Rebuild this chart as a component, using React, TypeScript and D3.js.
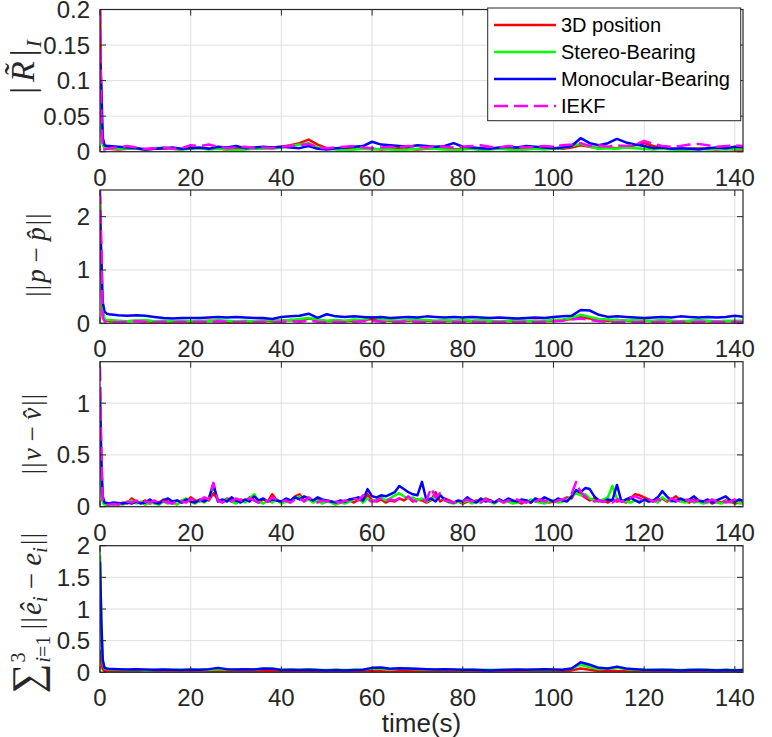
import { useEffect, useRef } from 'react';
import * as d3 from 'd3';

// sample times (s): coarse grid for the smooth panels, 1 s grid for the velocity panel
const tCoarse = [
  0, 0.3, 0.6, 1, 1.5,
  2, 4, 6, 8, 10, 12, 14, 16, 18, 20,
  22, 24, 26, 28, 30, 32, 34, 36, 38, 40,
  42, 44, 46, 48, 50, 52, 54, 56, 58, 60,
  62, 64, 66, 68, 70, 72, 74, 76, 78, 80,
  82, 84, 86, 88, 90, 92, 94, 96, 98, 100,
  102, 104, 106, 108, 110, 112, 114, 116, 118, 120,
  122, 124, 126, 128, 130, 132, 134, 136, 138, 140,
  142,
];
const tFine = [
  0, 0.3, 0.6, 1, 1.5,
  2, 3, 4, 5, 6, 7, 8, 9, 10, 11,
  12, 13, 14, 15, 16, 17, 18, 19, 20, 21,
  22, 23, 24, 25, 26, 27, 28, 29, 30, 31,
  32, 33, 34, 35, 36, 37, 38, 39, 40, 41,
  42, 43, 44, 45, 46, 47, 48, 49, 50, 51,
  52, 53, 54, 55, 56, 57, 58, 59, 60, 61,
  62, 63, 64, 65, 66, 67, 68, 69, 70, 71,
  72, 73, 74, 75, 76, 77, 78, 79, 80, 81,
  82, 83, 84, 85, 86, 87, 88, 89, 90, 91,
  92, 93, 94, 95, 96, 97, 98, 99, 100, 101,
  102, 103, 104, 105, 106, 107, 108, 109, 110, 111,
  112, 113, 114, 115, 116, 117, 118, 119, 120, 121,
  122, 123, 124, 125, 126, 127, 128, 129, 130, 131,
  132, 133, 134, 135, 136, 137, 138, 139, 140, 141,
  142,
];

const seriesNames = ['3D position', 'Stereo-Bearing', 'Monocular-Bearing', 'IEKF'];
const seriesColors = ['#ff0000', '#00ff00', '#0000ff', '#ff00ff'];
const xTicks = [0, 20, 40, 60, 80, 100, 120, 140];

// panel 1: rotation error |R~|_I
const rotTicks = [0, 0.05, 0.1, 0.15, 0.2];
const rotTickLabels = ['0', '0.05', '0.1', '0.15', '0.2'];
const rot3D = [
  0.21, 0.06, 0.012, 0.005, 0.004,
  0.004, 0.003, 0.004, 0.005, 0.003, 0.004, 0.005, 0.004, 0.003, 0.006,
  0.005, 0.004, 0.005, 0.003, 0.004, 0.005, 0.004, 0.005, 0.006, 0.007,
  0.009, 0.012, 0.017, 0.010, 0.005, 0.004, 0.003, 0.004, 0.005, 0.004,
  0.003, 0.004, 0.005, 0.004, 0.003, 0.004, 0.005, 0.004, 0.003, 0.004,
  0.005, 0.003, 0.004, 0.005, 0.004, 0.003, 0.004, 0.005, 0.004, 0.005,
  0.004, 0.006, 0.009, 0.007, 0.005, 0.006, 0.005, 0.007, 0.009, 0.012,
  0.008, 0.005, 0.004, 0.003, 0.004, 0.005, 0.004, 0.003, 0.004, 0.003,
  0.003,
];
const rotStereo = [
  0.09, 0.03, 0.01, 0.006, 0.005,
  0.005, 0.004, 0.005, 0.004, 0.003, 0.005, 0.006, 0.004, 0.003, 0.004,
  0.005, 0.003, 0.004, 0.003, 0.002, 0.003, 0.004, 0.005, 0.004, 0.006,
  0.008, 0.010, 0.012, 0.006, 0.004, 0.003, 0.002, 0.003, 0.004, 0.003,
  0.004, 0.003, 0.002, 0.003, 0.004, 0.005, 0.004, 0.003, 0.002, 0.003,
  0.004, 0.002, 0.003, 0.004, 0.003, 0.002, 0.003, 0.004, 0.003, 0.004,
  0.005, 0.008, 0.011, 0.007, 0.004, 0.005, 0.004, 0.006, 0.005, 0.004,
  0.003, 0.004, 0.003, 0.002, 0.003, 0.004, 0.003, 0.004, 0.003, 0.004,
  0.004,
];
const rotMono = [
  0.13, 0.09, 0.02, 0.009, 0.008,
  0.008, 0.007, 0.006, 0.005, 0.003, 0.004, 0.005, 0.006, 0.004, 0.005,
  0.006, 0.004, 0.007, 0.006, 0.008, 0.005, 0.006, 0.007, 0.006, 0.007,
  0.006, 0.005, 0.008, 0.004, 0.003, 0.005, 0.006, 0.007, 0.008, 0.014,
  0.010, 0.009, 0.008, 0.007, 0.009, 0.008, 0.007, 0.008, 0.012, 0.007,
  0.006, 0.005, 0.004, 0.006, 0.007, 0.006, 0.008, 0.007, 0.006, 0.005,
  0.006, 0.008, 0.019, 0.012, 0.009, 0.012, 0.018, 0.013, 0.010, 0.008,
  0.005, 0.006, 0.004, 0.005, 0.004, 0.003, 0.005, 0.006, 0.005, 0.007,
  0.006,
];
const rotIEKF = [
  0.2, 0.05, 0.004, 0.003, 0.004,
  0.005, 0.006, 0.008, 0.006, 0.004, 0.005, 0.006, 0.004, 0.005, 0.009,
  0.008, 0.010, 0.007, 0.005, 0.006, 0.007, 0.005, 0.006, 0.005, 0.007,
  0.008, 0.009, 0.011, 0.006, 0.005, 0.006, 0.007, 0.008, 0.006, 0.005,
  0.006, 0.007, 0.006, 0.008, 0.007, 0.006, 0.008, 0.007, 0.006, 0.007,
  0.008, 0.009, 0.007, 0.006, 0.008, 0.007, 0.006, 0.007, 0.008, 0.007,
  0.009, 0.010, 0.012, 0.008, 0.009, 0.007, 0.009, 0.008, 0.010, 0.015,
  0.011, 0.008, 0.007, 0.008, 0.010, 0.011, 0.009, 0.007, 0.008, 0.009,
  0.008,
];

// panel 2: position error ||p - p^||
const posTicks = [0, 1, 2];
const posTickLabels = ['0', '1', '2'];
const pos3D = [
  2.4, 0.9, 0.15, 0.06, 0.05,
  0.04, 0.03, 0.04, 0.05, 0.04, 0.03, 0.04, 0.03, 0.04, 0.03,
  0.04, 0.05, 0.04, 0.03, 0.04, 0.03, 0.04, 0.05, 0.04, 0.05,
  0.06, 0.05, 0.09, 0.06, 0.04, 0.05, 0.04, 0.05, 0.06, 0.08,
  0.06, 0.05, 0.04, 0.05, 0.06, 0.05, 0.04, 0.05, 0.04, 0.05,
  0.04, 0.05, 0.04, 0.03, 0.04, 0.05, 0.04, 0.05, 0.04, 0.05,
  0.06, 0.08, 0.12, 0.09, 0.06, 0.05, 0.06, 0.05, 0.04, 0.05,
  0.04, 0.05, 0.04, 0.03, 0.04, 0.05, 0.04, 0.03, 0.04, 0.04,
  0.04,
];
const posStereo = [
  2.3, 0.7, 0.35, 0.08, 0.06,
  0.06, 0.05, 0.04, 0.05, 0.06, 0.04, 0.05, 0.04, 0.05, 0.04,
  0.05, 0.04, 0.06, 0.05, 0.04, 0.05, 0.04, 0.05, 0.06, 0.05,
  0.06, 0.08, 0.1, 0.07, 0.05, 0.06, 0.05, 0.07, 0.06, 0.12,
  0.07, 0.06, 0.05, 0.06, 0.07, 0.06, 0.05, 0.06, 0.05, 0.06,
  0.05, 0.06, 0.05, 0.04, 0.05, 0.06, 0.05, 0.04, 0.05, 0.06,
  0.07, 0.1, 0.16, 0.12, 0.08, 0.07, 0.06, 0.05, 0.06, 0.05,
  0.05, 0.06, 0.05, 0.04, 0.05, 0.06, 0.05, 0.04, 0.05, 0.05,
  0.05,
];
const posMono = [
  2.1, 1.2, 0.4, 0.22, 0.18,
  0.17, 0.15, 0.14, 0.15, 0.14, 0.12, 0.1, 0.09, 0.1, 0.1,
  0.1, 0.11, 0.12, 0.11, 0.12, 0.11, 0.1, 0.1, 0.08, 0.12,
  0.13, 0.14, 0.18, 0.1, 0.17, 0.13, 0.12, 0.13, 0.12, 0.11,
  0.12, 0.1, 0.11, 0.12, 0.11, 0.13, 0.12, 0.11, 0.12, 0.11,
  0.12, 0.11, 0.1, 0.11, 0.1, 0.09, 0.1, 0.11, 0.1, 0.12,
  0.13, 0.14, 0.25, 0.24, 0.16, 0.12, 0.13, 0.12, 0.11, 0.1,
  0.11, 0.12, 0.11, 0.13, 0.12, 0.11, 0.12, 0.11, 0.12, 0.14,
  0.12,
];
const posIEKF = [
  2.5, 1.5, 0.1, 0.04, 0.03,
  0.03, 0.02, 0.03, 0.04, 0.03, 0.02, 0.03, 0.02, 0.03, 0.02,
  0.03, 0.02, 0.04, 0.03, 0.02, 0.03, 0.02, 0.03, 0.02, 0.03,
  0.04, 0.03, 0.05, 0.03, 0.02, 0.03, 0.02, 0.03, 0.04, 0.05,
  0.03, 0.02, 0.03, 0.04, 0.03, 0.02, 0.03, 0.02, 0.03, 0.02,
  0.03, 0.02, 0.03, 0.02, 0.03, 0.02, 0.03, 0.02, 0.03, 0.04,
  0.05, 0.07, 0.09, 0.06, 0.04, 0.03, 0.02, 0.03, 0.02, 0.03,
  0.02, 0.03, 0.02, 0.03, 0.02, 0.03, 0.02, 0.03, 0.02, 0.03,
  0.02,
];

// panel 3: velocity error ||v - v^|| (1 s grid)
const velTicks = [0, 0.5, 1];
const velTickLabels = ['0', '0.5', '1'];
const vel3D = [
  0.85, 0.3, 0.06, 0.03, 0.02,
  0.02, 0.03, 0.02, 0.04, 0.03, 0.08, 0.05, 0.04, 0.06, 0.03,
  0.05, 0.04, 0.07, 0.05, 0.03, 0.06, 0.04, 0.05, 0.09, 0.06,
  0.05, 0.08, 0.06, 0.13, 0.07, 0.05, 0.08, 0.06, 0.04, 0.07,
  0.05, 0.09, 0.06, 0.04, 0.07, 0.05, 0.12, 0.06, 0.04, 0.07,
  0.05, 0.1, 0.12, 0.06, 0.08, 0.05, 0.07, 0.04, 0.06, 0.05,
  0.03, 0.05, 0.04, 0.06, 0.04, 0.07, 0.05, 0.12, 0.06, 0.05,
  0.07, 0.04, 0.06, 0.05, 0.08, 0.06, 0.09, 0.05, 0.07, 0.06,
  0.04, 0.06, 0.14, 0.05, 0.08, 0.06, 0.04, 0.05, 0.03, 0.05,
  0.04, 0.06, 0.05, 0.08, 0.06, 0.04, 0.07, 0.05, 0.06, 0.04,
  0.05, 0.03, 0.06, 0.04, 0.07, 0.05, 0.06, 0.04, 0.05, 0.07,
  0.06, 0.09, 0.08, 0.15, 0.12, 0.09, 0.06, 0.08, 0.05, 0.06,
  0.04, 0.07, 0.05, 0.06, 0.04, 0.08, 0.12, 0.11, 0.09, 0.07,
  0.05, 0.06, 0.08, 0.05, 0.07, 0.1, 0.06, 0.05, 0.04, 0.07,
  0.05, 0.04, 0.06, 0.03, 0.05, 0.04, 0.06, 0.05, 0.03, 0.04,
  0.03,
];
const velStereo = [
  0.5, 0.15, 0.04, 0.02, 0.015,
  0.02, 0.015, 0.03, 0.02, 0.04, 0.06, 0.03, 0.05, 0.02, 0.04,
  0.03, 0.02, 0.05, 0.03, 0.04, 0.02, 0.06, 0.08, 0.05, 0.03,
  0.06, 0.04, 0.07, 0.2, 0.06, 0.04, 0.07, 0.05, 0.03, 0.06,
  0.04, 0.08, 0.12, 0.05, 0.03, 0.06, 0.04, 0.07, 0.03, 0.05,
  0.04, 0.08, 0.1, 0.05, 0.07, 0.04, 0.06, 0.03, 0.05, 0.04,
  0.02, 0.04, 0.03, 0.05, 0.07, 0.09, 0.04, 0.08, 0.05, 0.07,
  0.09, 0.06, 0.08, 0.11, 0.13, 0.1, 0.08, 0.09, 0.06, 0.08,
  0.05, 0.07, 0.1, 0.12, 0.06, 0.04, 0.03, 0.05, 0.04, 0.06,
  0.03, 0.05, 0.04, 0.07, 0.05, 0.03, 0.06, 0.04, 0.05, 0.03,
  0.04, 0.06, 0.04, 0.07, 0.05, 0.04, 0.03, 0.05, 0.06, 0.04,
  0.05, 0.07, 0.1, 0.13, 0.11, 0.12, 0.08, 0.06, 0.05, 0.07,
  0.09, 0.2, 0.08, 0.06, 0.05, 0.04, 0.06, 0.05, 0.07, 0.05,
  0.06, 0.04, 0.09, 0.06, 0.05, 0.07, 0.05, 0.04, 0.06, 0.04,
  0.05, 0.03, 0.04, 0.06, 0.04, 0.03, 0.05, 0.04, 0.06, 0.03,
  0.04,
];
const velMono = [
  1.1, 0.45, 0.1, 0.04, 0.035,
  0.03, 0.04, 0.035, 0.03, 0.04, 0.03, 0.05, 0.03, 0.04, 0.07,
  0.04, 0.03, 0.06, 0.08, 0.05, 0.06, 0.04, 0.07, 0.05, 0.04,
  0.07, 0.05, 0.08, 0.22, 0.05, 0.07, 0.05, 0.09, 0.06, 0.04,
  0.07, 0.05, 0.1, 0.06, 0.08, 0.05, 0.07, 0.06, 0.05, 0.08,
  0.06, 0.09, 0.07, 0.1, 0.08, 0.06, 0.09, 0.07, 0.06, 0.05,
  0.04, 0.06, 0.05, 0.07, 0.08, 0.09, 0.06, 0.17, 0.1, 0.09,
  0.11, 0.1, 0.12, 0.14, 0.2, 0.17, 0.14, 0.12, 0.11, 0.24,
  0.06, 0.08, 0.05, 0.11, 0.07, 0.05, 0.04, 0.06, 0.05, 0.09,
  0.06, 0.04, 0.08, 0.05, 0.06, 0.04, 0.07, 0.05, 0.08, 0.06,
  0.05, 0.07, 0.06, 0.04, 0.08, 0.06, 0.09, 0.07, 0.05, 0.08,
  0.06, 0.05, 0.1, 0.16, 0.14, 0.18, 0.17, 0.1, 0.06, 0.05,
  0.07, 0.06, 0.21, 0.05, 0.07, 0.09, 0.06, 0.04, 0.07, 0.05,
  0.06, 0.09, 0.15, 0.1, 0.06, 0.05, 0.08, 0.06, 0.07, 0.1,
  0.06, 0.05, 0.07, 0.04, 0.06, 0.08, 0.1, 0.06, 0.05, 0.07,
  0.05,
];
const velIEKF = [
  1.35, 0.5, 0.05, 0.025, 0.02,
  0.02, 0.025, 0.02, 0.03, 0.05, 0.04, 0.06, 0.03, 0.05, 0.04,
  0.06, 0.03, 0.05, 0.04, 0.03, 0.06, 0.05, 0.04, 0.07, 0.08,
  0.06, 0.09, 0.07, 0.23, 0.06, 0.04, 0.07, 0.05, 0.08, 0.06,
  0.05, 0.08, 0.06, 0.04, 0.07, 0.05, 0.09, 0.06, 0.05, 0.06,
  0.04, 0.07, 0.08, 0.05, 0.09, 0.06, 0.04, 0.06, 0.05, 0.07,
  0.05, 0.04, 0.06, 0.05, 0.08, 0.06, 0.11, 0.07, 0.05, 0.06,
  0.08, 0.05, 0.07, 0.06, 0.08, 0.07, 0.1, 0.06, 0.05, 0.07,
  0.06, 0.18, 0.09, 0.13, 0.06, 0.05, 0.04, 0.06, 0.05, 0.07,
  0.05, 0.06, 0.04, 0.07, 0.05, 0.08, 0.06, 0.04, 0.06, 0.05,
  0.07, 0.05, 0.04, 0.06, 0.05, 0.07, 0.05, 0.06, 0.04, 0.06,
  0.07, 0.09, 0.12, 0.24, 0.14, 0.1, 0.07, 0.05, 0.06, 0.05,
  0.06, 0.04, 0.07, 0.05, 0.06, 0.09, 0.1, 0.08, 0.06, 0.07,
  0.05, 0.07, 0.06, 0.05, 0.08, 0.06, 0.05, 0.07, 0.06, 0.05,
  0.06, 0.04, 0.05, 0.07, 0.05, 0.06, 0.04, 0.05, 0.07, 0.05,
  0.04,
];

// panel 4: sum of basis vector errors
const basisTicks = [0, 0.5, 1, 1.5, 2];
const basisTickLabels = ['0', '0.5', '1', '1.5', '2'];
const basis3D = [
  0.35, 0.15, 0.05, 0.02, 0.02,
  0.02, 0.015, 0.01, 0.015, 0.01, 0.015, 0.01, 0.015, 0.01, 0.015,
  0.01, 0.015, 0.02, 0.015, 0.02, 0.015, 0.01, 0.02, 0.015, 0.01,
  0.015, 0.02, 0.03, 0.015, 0.01, 0.015, 0.01, 0.015, 0.02, 0.02,
  0.015, 0.01, 0.015, 0.02, 0.015, 0.01, 0.015, 0.01, 0.015, 0.01,
  0.015, 0.01, 0.015, 0.01, 0.015, 0.01, 0.015, 0.01, 0.015, 0.01,
  0.015, 0.03, 0.06, 0.04, 0.02, 0.03, 0.02, 0.015, 0.01, 0.015,
  0.01, 0.015, 0.01, 0.015, 0.01, 0.015, 0.01, 0.015, 0.01, 0.015,
  0.01,
];
const basisStereo = [
  1.85, 0.7, 0.15, 0.06, 0.05,
  0.05, 0.04, 0.035, 0.04, 0.03, 0.035, 0.04, 0.035, 0.04, 0.035,
  0.04, 0.035, 0.05, 0.045, 0.04, 0.05, 0.045, 0.055, 0.06, 0.04,
  0.045, 0.04, 0.05, 0.04, 0.035, 0.04, 0.035, 0.04, 0.045, 0.06,
  0.055, 0.05, 0.06, 0.055, 0.05, 0.045, 0.04, 0.045, 0.04, 0.035,
  0.04, 0.035, 0.04, 0.035, 0.04, 0.035, 0.04, 0.035, 0.04, 0.035,
  0.04, 0.06, 0.12, 0.08, 0.05, 0.06, 0.07, 0.05, 0.04, 0.035,
  0.04, 0.035, 0.04, 0.035, 0.04, 0.035, 0.04, 0.035, 0.04, 0.035,
  0.035,
];
const basisMono = [
  1.75, 0.8, 0.2, 0.07, 0.06,
  0.055, 0.05, 0.045, 0.05, 0.045, 0.04, 0.045, 0.04, 0.035, 0.045,
  0.04, 0.05, 0.07, 0.05, 0.045, 0.05, 0.045, 0.06, 0.055, 0.035,
  0.04, 0.035, 0.04, 0.035, 0.03, 0.035, 0.03, 0.035, 0.04, 0.07,
  0.075, 0.055, 0.065, 0.06, 0.055, 0.05, 0.045, 0.05, 0.045, 0.04,
  0.04, 0.035, 0.03, 0.035, 0.04, 0.045, 0.04, 0.045, 0.05, 0.045,
  0.04, 0.06, 0.16, 0.12, 0.07, 0.06, 0.09, 0.06, 0.05, 0.04,
  0.035, 0.04, 0.035, 0.03, 0.035, 0.04, 0.035, 0.03, 0.035, 0.03,
  0.035,
];

const W = 772;
const H = 737;
const AX = '#262626';

type Part = { s: string; i?: boolean; f?: number; dx?: number; dy?: number };

export default function App() {
  const ref = useRef<SVGSVGElement>(null);

  useEffect(() => {
    if (!ref.current) return;
    const svg = d3.select(ref.current);
    svg.selectAll('*').remove();

    const left = 100;
    const right = 743;
    const x = d3.scaleLinear().domain([0, 141.8]).range([left, right]);

    const panels = [
      {
        top: 9.5, bottom: 151.7, yMax: 0.2, ticks: rotTicks, tickLabels: rotTickLabels, t: tCoarse,
        series: [rot3D, rotStereo, rotMono, rotIEKF],
        lx: 34, ly: 67, fs: 34,
        label: [
          { s: '|' }, { s: 'R\u0303', i: true, dx: 5 }, { s: '|', dx: 5 }, { s: 'I', i: true, f: 22, dy: 7, dx: 2 },
        ] as Part[],
      },
      {
        top: 190, bottom: 323.3, yMax: 2.5, ticks: posTicks, tickLabels: posTickLabels, t: tCoarse,
        series: [pos3D, posStereo, posMono, posIEKF],
        lx: 45, ly: 255, fs: 27,
        label: [
          { s: '|' }, { s: '|', dx: 1 }, { s: 'p', i: true, dx: 2 }, { s: ' \u2212 ' }, { s: 'p\u0302', i: true },
          { s: '|', dx: 2 }, { s: '|', dx: 1 },
        ] as Part[],
      },
      {
        top: 361.7, bottom: 506.7, yMax: 1.4, ticks: velTicks, tickLabels: velTickLabels, t: tFine,
        series: [vel3D, velStereo, velMono, velIEKF],
        lx: 41, ly: 434, fs: 27,
        label: [
          { s: '|' }, { s: '|', dx: 1 }, { s: 'v', i: true, dx: 2 }, { s: ' \u2212 ' }, { s: 'v\u0302', i: true },
          { s: '|', dx: 2 }, { s: '|', dx: 1 },
        ] as Part[],
      },
      {
        top: 545.7, bottom: 672.3, yMax: 2, ticks: basisTicks, tickLabels: basisTickLabels, t: tCoarse,
        series: [basis3D, basisStereo, basisMono],
        lx: 41, ly: 613, fs: 29,
        label: [
          { s: '\u2211', f: 42 },
          { s: '3', f: 20, dy: -16, dx: 1 },
          { s: 'i', i: true, f: 20, dx: -10, dy: 25 },
          { s: '=1', f: 20 },
          { s: '|', dx: 6, dy: -9 },
          { s: '|', dx: 1 },
          { s: '\u00ea', i: true, dx: 2 },
          { s: 'i', i: true, f: 20, dy: 6 },
          { s: ' \u2212 ', dy: -6 },
          { s: 'e', i: true },
          { s: 'i', i: true, f: 20, dy: 6 },
          { s: '|', dx: 2, dy: -6 },
          { s: '|', dx: 1 },
        ] as Part[],
      },
    ];

    const line = (t: number[], y: d3.ScaleLinear<number, number>) =>
      d3
        .line<number>()
        .x((_, k) => x(t[k]))
        .y((d) => y(d));

    panels.forEach((p, pi) => {
      const y = d3.scaleLinear().domain([0, p.yMax]).range([p.bottom, p.top]);
      const g = svg.append('g');

      // grid
      xTicks.forEach((d) => {
        g.append('line').attr('x1', x(d)).attr('x2', x(d)).attr('y1', p.top).attr('y2', p.bottom).attr('stroke', '#dfdfdf');
      });
      p.ticks.forEach((d) => {
        g.append('line').attr('x1', left).attr('x2', right).attr('y1', y(d)).attr('y2', y(d)).attr('stroke', '#dfdfdf');
      });

      // data lines, clipped to the axes box
      const clipId = `clip-${pi}`;
      svg
        .append('clipPath')
        .attr('id', clipId)
        .append('rect')
        .attr('x', left)
        .attr('y', p.top)
        .attr('width', right - left)
        .attr('height', p.bottom - p.top);
      const lg = g.append('g').attr('clip-path', `url(#${clipId})`);
      p.series.forEach((s, k) => {
        lg.append('path')
          .attr('d', line(p.t, y)(s))
          .attr('fill', 'none')
          .attr('stroke', seriesColors[k])
          .attr('stroke-width', 2.5)
          .attr('stroke-linejoin', 'round')
          .attr('stroke-dasharray', k === 3 ? '14 6' : null);
      });

      // box
      g.append('rect')
        .attr('x', left)
        .attr('y', p.top)
        .attr('width', right - left)
        .attr('height', p.bottom - p.top)
        .attr('fill', 'none')
        .attr('stroke', AX)
        .attr('stroke-width', 1.2);

      // inward ticks on all sides, with labels
      const tl = 6;
      xTicks.forEach((d) => {
        g.append('line').attr('x1', x(d)).attr('x2', x(d)).attr('y1', p.bottom).attr('y2', p.bottom - tl).attr('stroke', AX);
        g.append('line').attr('x1', x(d)).attr('x2', x(d)).attr('y1', p.top).attr('y2', p.top + tl).attr('stroke', AX);
        g.append('text')
          .attr('x', x(d))
          .attr('y', p.bottom + 34)
          .attr('text-anchor', 'middle')
          .attr('font-size', 24)
          .attr('fill', AX)
          .text(String(d));
      });
      p.ticks.forEach((d, k) => {
        g.append('line').attr('x1', left).attr('x2', left + tl).attr('y1', y(d)).attr('y2', y(d)).attr('stroke', AX);
        g.append('line').attr('x1', right).attr('x2', right - tl).attr('y1', y(d)).attr('y2', y(d)).attr('stroke', AX);
        g.append('text')
          .attr('x', left - 10)
          .attr('y', y(d) + 8.5)
          .attr('text-anchor', 'end')
          .attr('font-size', 24)
          .attr('fill', AX)
          .text(p.tickLabels[k]);
      });

      // rotated math label
      const lab = g
        .append('text')
        .attr('transform', `translate(${p.lx},${p.ly}) rotate(-90)`)
        .attr('text-anchor', 'middle')
        .attr('font-family', '"Liberation Serif", "DejaVu Serif", serif')
        .attr('font-size', p.fs)
        .attr('fill', AX);
      p.label.forEach((part) => {
        lab
          .append('tspan')
          .attr('font-style', part.i ? 'italic' : 'normal')
          .attr('font-size', part.f ?? null)
          .attr('dx', part.dx ?? null)
          .attr('dy', part.dy ?? null)
          .text(part.s);
      });
    });

    // legend
    const leg = svg.append('g');
    leg.append('rect')
      .attr('x', 487.7)
      .attr('y', 8)
      .attr('width', 253)
      .attr('height', 112.7)
      .attr('fill', '#ffffff')
      .attr('stroke', AX)
      .attr('stroke-width', 1);
    seriesNames.forEach((name, k) => {
      const cy = 25 + k * 27;
      leg.append('line')
        .attr('x1', 494)
        .attr('x2', 556)
        .attr('y1', cy)
        .attr('y2', cy)
        .attr('stroke', seriesColors[k])
        .attr('stroke-width', 2.5)
        .attr('stroke-dasharray', k === 3 ? '14 6' : null);
      leg.append('text')
        .attr('x', 561)
        .attr('y', cy + 7)
        .attr('font-size', 20)
        .attr('fill', '#000000')
        .text(name);
    });

    // x axis title
    svg.append('text')
      .attr('x', (left + right) / 2)
      .attr('y', 732)
      .attr('text-anchor', 'middle')
      .attr('font-size', 26)
      .attr('fill', AX)
      .text('time(s)');
  }, []);

  return (
    <svg
      ref={ref}
      width={W}
      height={H}
      style={{ position: 'absolute', left: 0, top: 0, background: '#fff', fontFamily: '"Liberation Sans", Arial, sans-serif' }}
    />
  );
}
